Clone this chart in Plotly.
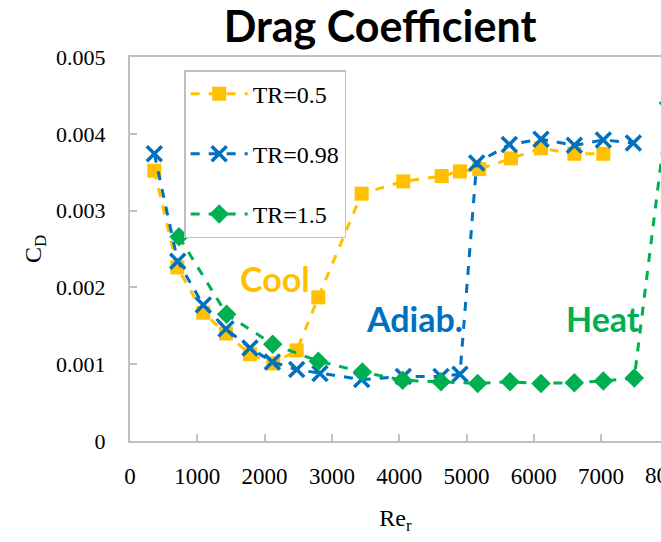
import plotly.graph_objects as go

# ---- data ----
re_05 = [361, 703, 1089, 1426, 1783, 2130, 2477, 2798, 3442, 4061, 4631, 4903, 5190, 5661, 6107, 6602, 7033]
cd_05 = [0.00352, 0.00226, 0.00167, 0.00140, 0.00113, 0.00101, 0.00118, 0.00187, 0.00322, 0.00338, 0.00345, 0.00351, 0.00354, 0.00368, 0.00381, 0.00374, 0.00374]

re_098 = [361, 709, 1089, 1426, 1783, 2115, 2477, 2823, 3442, 4061, 4621, 4903, 5151, 5636, 6107, 6602, 7033, 7479]
cd_098 = [0.00374, 0.00234, 0.00177, 0.00146, 0.00121, 0.00103, 0.00093, 0.00088, 0.00080, 0.00084, 0.00084, 0.00087, 0.00362, 0.00386, 0.00393, 0.00385, 0.00392, 0.00388]

re_15 = [728, 1436, 2120, 2798, 3452, 4051, 4621, 5166, 5646, 6107, 6602, 7033, 7493, 8000]
cd_15 = [0.00266, 0.00165, 0.00126, 0.00104, 0.00090, 0.00079, 0.00077, 0.00075, 0.00077, 0.00075, 0.00076, 0.00078, 0.00082, 0.00440]

y_ticks = [0, 0.001, 0.002, 0.003, 0.004, 0.005]
y_labels = ["0", "0.001", "0.002", "0.003", "0.004", "0.005"]
x_ticks = [0, 1000, 2000, 3000, 4000, 5000, 6000, 7000]
x_clipped_tick = 8000
x_max = 7890

ORANGE = "#FFC000"
BLUE = "#0070C0"
GREEN = "#00B050"
AXIS_GRAY = "#BFBFBF"
SERIF = "Liberation Serif"
SANS = "Lato"

fig = go.Figure()
fig.add_trace(go.Scatter(
    x=re_05, y=cd_05, name="TR=0.5", mode="lines+markers", legendgroup="a",
    line=dict(color=ORANGE, width=3, dash="dash"),
    marker=dict(symbol="square", size=14, color=ORANGE)))
fig.add_trace(go.Scatter(
    x=re_098, y=cd_098, name="TR=0.98", mode="lines+markers", legendgroup="b",
    line=dict(color=BLUE, width=3, dash="dash"),
    marker=dict(symbol="x-thin", size=15, color=BLUE, line=dict(color=BLUE, width=3.5))))
fig.add_trace(go.Scatter(
    x=re_15, y=cd_15, name="TR=1.5", mode="lines+markers", legendgroup="c",
    line=dict(color=GREEN, width=3, dash="dash"),
    marker=dict(symbol="diamond", size=15, color=GREEN)))

annotations = [
    dict(x=2155, y=0.00212, xref="x", yref="y", text="<b>Cool</b>", showarrow=False,
         font=dict(family=SANS, size=34, color=ORANGE)),
    dict(x=4220, y=0.00160, xref="x", yref="y", text="<b>Adiab.</b>", showarrow=False,
         font=dict(family=SANS, size=34, color=BLUE)),
    dict(x=7028, y=0.00160, xref="x", yref="y", text="<b>Heat</b>", showarrow=False,
         font=dict(family=SANS, size=34, color=GREEN)),
    dict(x=x_clipped_tick / x_max, y=-0.09, xref="paper", yref="paper", text=str(x_clipped_tick),
         showarrow=False, xanchor="center", yanchor="middle",
         font=dict(family=SERIF, size=23, color="black")),
]

fig.update_layout(
    width=661, height=542,
    margin=dict(l=130, r=0, t=57, b=101),
    paper_bgcolor="white", plot_bgcolor="white",
    title=dict(text="<b>Drag Coefficient</b>", x=0.575, xanchor="center", y=0.95, yanchor="middle",
               font=dict(family=SANS, size=43, color="black")),
    showlegend=True,
    legend=dict(x=0.102, y=0.966, xanchor="left", yanchor="top",
                bgcolor="white", bordercolor=AXIS_GRAY, borderwidth=1.5,
                font=dict(family=SERIF, size=24, color="black"),
                tracegroupgap=26, itemwidth=57),
    annotations=annotations,
)

fig.update_xaxes(
    range=[0, x_max], tickvals=x_ticks, showgrid=False, zeroline=False,
    showline=True, linecolor=AXIS_GRAY, linewidth=2, mirror=True,
    ticks="inside", ticklen=7, tickcolor=AXIS_GRAY, tickwidth=1.5,
    tickfont=dict(family=SERIF, size=23, color="black"), ticklabelstandoff=13,
    title=dict(text="Re<sub>r</sub>", font=dict(family=SERIF, size=24, color="black"), standoff=22),
)
fig.update_yaxes(
    range=[0, 0.005], tickvals=y_ticks, ticktext=y_labels, showgrid=False, zeroline=False,
    showline=True, linecolor=AXIS_GRAY, linewidth=2,
    ticks="inside", ticklen=7, tickcolor=AXIS_GRAY, tickwidth=1.5,
    tickfont=dict(family=SERIF, size=22, color="black"), ticklabelstandoff=18,
    title=dict(text="C<sub>D</sub>", font=dict(family=SERIF, size=24, color="black"), standoff=8),
)

fig.write_html("out.html")
